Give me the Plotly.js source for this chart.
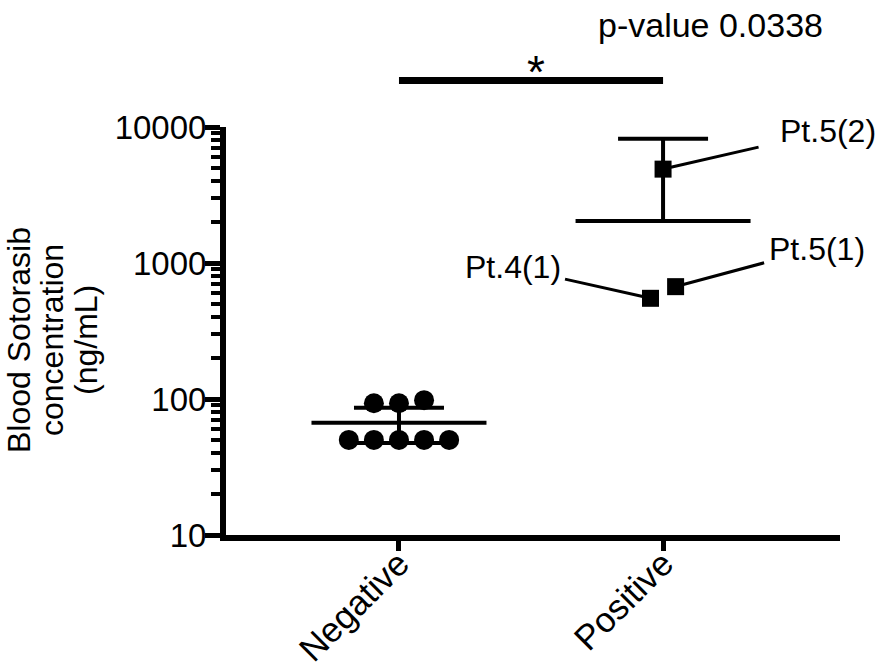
<!DOCTYPE html>
<html><head><meta charset="utf-8">
<script src="https://cdn.plot.ly/plotly-3.0.1.min.js"></script>
<style>html,body{margin:0;padding:0;background:#fff}</style>
</head><body><div id="chart" style="width:886px;height:671px"></div>
<script>
// ---- data ----
const categories = ['Negative', 'Positive'];
const negativeValues = [50, 50, 50, 50, 50, 93, 93, 98];
const positiveValues = [550, 670, 4900];
const positiveLabels = ['Pt.4(1)', 'Pt.5(1)', 'Pt.5(2)'];
const yTickValues = [10, 100, 1000, 10000];
const yTickLabels = ['10', '100', '1000', '10000'];
const thresholdValue = 100;
const pValueText = 'p-value 0.0338';
const sigMark = '*';
const yTitleLines = ['Blood Sotorasib', 'concentration', '(ng/mL)'];

// two-sided 95% t critical values by degrees of freedom
const T975 = [NaN, 12.706, 4.303, 3.182, 2.776, 2.571, 2.447, 2.365, 2.306, 2.262, 2.228];

function stats(vals) {
  const n = vals.length;
  const mean = vals.reduce((a, b) => a + b, 0) / n;
  const sd = Math.sqrt(vals.reduce((a, b) => a + (b - mean) * (b - mean), 0) / (n - 1));
  const ci = T975[n - 1] * sd / Math.sqrt(n);
  return {mean, upper: mean + ci, lower: mean - ci};
}

// simple beeswarm: points with similar log value share a row and spread sideways
function jitter(vals, step) {
  const idx = vals.map((v, i) => i).sort((a, b) => vals[a] - vals[b]);
  const rows = [];
  idx.forEach(i => {
    const last = rows[rows.length - 1];
    if (last && Math.log10(vals[i]) - Math.log10(vals[last[0]]) < 0.1) last.push(i);
    else rows.push([i]);
  });
  const off = new Array(vals.length).fill(0);
  rows.forEach(r => r.forEach((i, k) => { off[i] = (k - (r.length - 1) / 2) * step; }));
  return off;
}

const STEP = 0.095;
const groups = [negativeValues, positiveValues];
const st = groups.map(stats);
const means = st.map(s => s.mean);
const errPlus = st.map(s => s.upper - s.mean);
const errMinus = st.map(s => s.lower > 0 ? s.mean - s.lower : 0);

const negX = jitter(negativeValues, STEP).map(o => 0 + o);
const posX = jitter(positiveValues, STEP).map(o => 1 + o);

const FONT = 'Liberation Sans, Arial, Helvetica, sans-serif';

const traces = [
  {
    x: [0, 1], y: means, type: 'scatter', mode: 'markers',
    marker: {size: 1, color: 'rgba(0,0,0,0)'},
    error_y: {type: 'data', symmetric: false, array: errPlus, arrayminus: errMinus,
              color: 'black', thickness: 4, width: 45},
    hoverinfo: 'skip', showlegend: false
  },
  {
    x: [0, 1], y: means, type: 'scatter', mode: 'markers',
    marker: {symbol: 'line-ew', size: 125, color: 'black', line: {width: 4, color: 'black'}},
    showlegend: false
  },
  {
    x: negX, y: negativeValues, type: 'scatter', mode: 'markers',
    marker: {symbol: 'circle', size: 20, color: 'black'}, showlegend: false
  },
  {
    x: posX, y: positiveValues, type: 'scatter', mode: 'markers',
    marker: {symbol: 'square', size: 17, color: 'black'}, showlegend: false
  }
];

// minor ticks 2..9 in each decade
const minorVals = [];
for (let d = 10; d < 10000; d *= 10) for (let k = 2; k <= 9; k++) minorVals.push(d * k);

const M = {l: 226, r: 46, t: 127, b: 136};
const PW = 886 - M.l - M.r;
const pxX = px => (px - M.l) / PW;

// label offsets (pixels) for the point callouts
const labelOffsets = [
  {ax: -138, ay: -31, pad: 4},
  {ax: 141, ay: -38, pad: 4},
  {ax: 165, ay: -38, pad: 21}
];

const annotations = positiveLabels.map((t, i) => ({
  x: posX[i], y: Math.log10(positiveValues[i]), xref: 'x', yref: 'y',
  text: t, showarrow: true, arrowhead: 0, arrowwidth: 3, arrowcolor: 'black',
  ax: labelOffsets[i].ax, ay: labelOffsets[i].ay, standoff: 8,
  borderpad: labelOffsets[i].pad,
  font: {family: FONT, size: 32, color: 'black'}
}));
annotations.push({
  x: 0.52, y: 1.134, xref: 'x', yref: 'paper', xanchor: 'center', yanchor: 'middle',
  text: sigMark, showarrow: false,
  font: {family: FONT, size: 46, color: 'black'}
});
annotations.push({
  x: 1.18, y: 1.251, xref: 'x', yref: 'paper', xanchor: 'center', yanchor: 'middle',
  text: pValueText, showarrow: false,
  font: {family: FONT, size: 34, color: 'black'}
});
const titleX = [19, 52, 86];
yTitleLines.forEach((t, i) => annotations.push({
  x: pxX(titleX[i]), y: 0.478, xref: 'paper', yref: 'paper', xanchor: 'center', yanchor: 'middle',
  text: t, textangle: -90, showarrow: false,
  font: {family: FONT, size: 32, color: 'black'}
}));

const layout = {
  width: 886, height: 671,
  margin: M,
  paper_bgcolor: 'white', plot_bgcolor: 'white',
  font: {family: FONT, color: 'black'},
  showlegend: false,
  xaxis: {
    range: [-0.655, 1.67], tickvals: [0, 1], ticktext: categories, tickangle: -45,
    ticks: 'outside', ticklen: 10, tickwidth: 5, tickcolor: 'black',
    ticklabelstandoff: -22,
    showline: true, linewidth: 6, linecolor: 'black',
    showgrid: false, zeroline: false,
    tickfont: {family: FONT, size: 35, color: 'black'}
  },
  yaxis: {
    type: 'log', range: [1, 4], tickvals: yTickValues, ticktext: yTickLabels,
    ticks: 'outside', ticklen: 15, tickwidth: 5, tickcolor: 'black',
    ticklabelstandoff: -8,
    minor: {tickvals: minorVals, ticks: 'outside', ticklen: 9, tickwidth: 4, tickcolor: 'black', showgrid: false},
    showline: true, linewidth: 6, linecolor: 'black',
    showgrid: false, zeroline: false,
    tickfont: {family: FONT, size: 33, color: 'black'}
  },
  shapes: [
    {type: 'line', xref: 'paper', yref: 'y', x0: 0, x1: 1,
     y0: Math.log10(thresholdValue), y1: Math.log10(thresholdValue),
     line: {color: 'black', width: 3, dash: 'dot'}},
    {type: 'line', xref: 'x', yref: 'paper', x0: 0, x1: 1, y0: 1.114, y1: 1.114,
     line: {color: 'black', width: 7}}
  ],
  annotations: annotations
};

Plotly.newPlot('chart', traces, layout, {displayModeBar: false, staticPlot: true});
</script>
</body></html>
